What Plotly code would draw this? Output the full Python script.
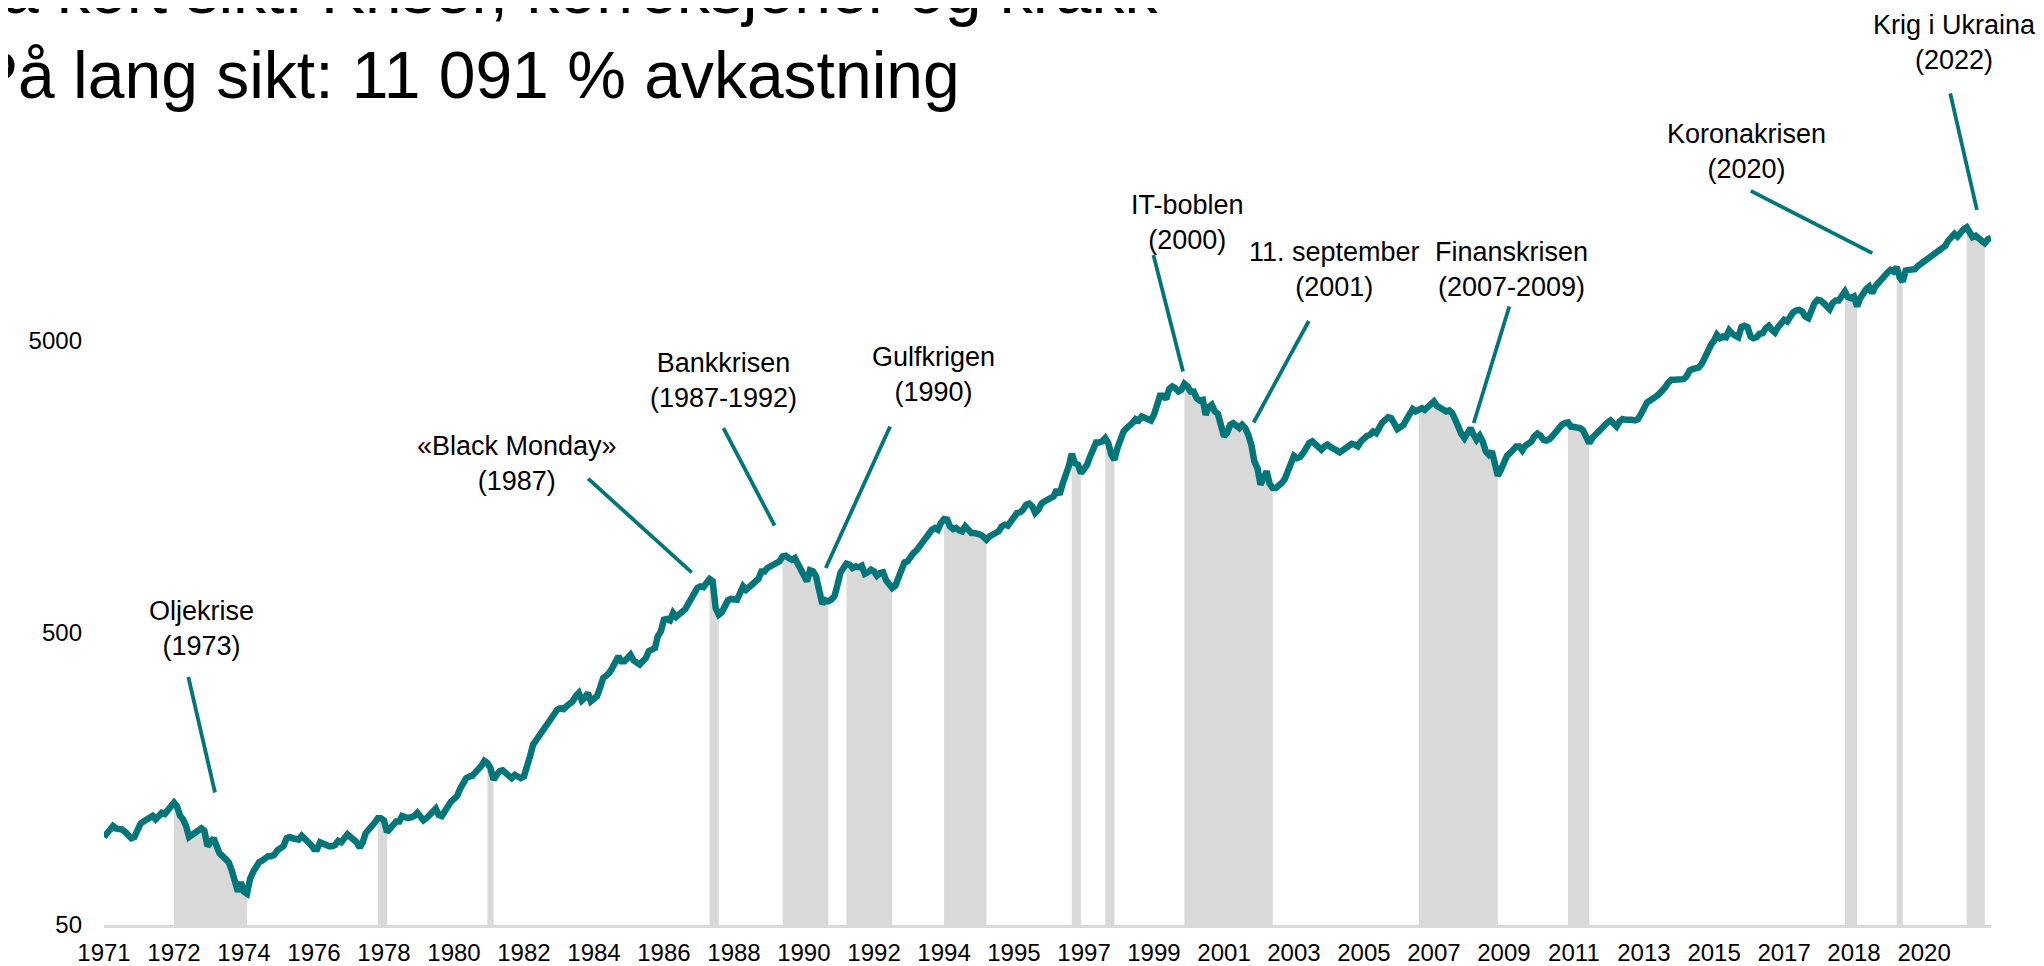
# %% [markdown]
# # Aksjemarkedet 1971-2022: kriser, korreksjoner og krakk
#
# Monthly index level (Jan 1971 = 100) on a log scale. Grey areas mark the
# drawdown periods, labels point at the well known crises.

# %% Imports
import numpy as np
import pandas as pd
import plotly.graph_objects as go

TEAL = "#00767A"
GREY = "#D9D9D9"
Y_FLOOR = 50  # bottom of the log axis, the grey areas are filled down to it

# %% Data
# Monthly index level, one row per year (Jan..Dec), 2022 runs to September
index_level = [
    100, 103, 106, 109, 107, 107, 106, 104, 102, 99, 100, 106,            # 1971
    111, 113, 115, 116, 118, 115, 117, 121, 120, 123, 127, 131,           # 1972
    127, 118, 115, 109, 100, 102, 104, 105, 107, 105, 93, 96,             # 1973
    99, 93, 88, 86, 84, 82, 77, 70, 65, 70, 65, 64,                       # 1974
    72, 76, 79, 82, 83, 85, 86, 86, 87, 90, 92, 93,                       # 1975
    99, 100, 99, 98, 98, 101, 99, 97, 94, 91, 91, 96,                     # 1976
    95, 93, 93, 93, 94, 97, 96, 99, 102, 100, 98, 96,                     # 1977
    92, 96, 103, 107, 109, 112, 116, 116, 114, 104, 107, 109,             # 1978
    113, 113, 118, 117, 116, 117, 118, 121, 118, 114, 116, 118,           # 1979
    122, 125, 119, 118, 123, 128, 132, 135, 138, 146, 154, 159,           # 1980
    161, 162, 166, 170, 175, 182, 179, 172, 157, 163, 168, 169,           # 1981
    166, 161, 159, 163, 160, 159, 161, 179, 189, 207, 215, 221,           # 1982
    230, 236, 244, 259, 266, 273, 276, 274, 280, 284, 291, 303,           # 1983
    311, 293, 299, 311, 291, 297, 303, 324, 350, 356, 364, 379,           # 1984
    399, 415, 399, 399, 409, 420, 402, 396, 389, 399, 409, 432,           # 1985
    435, 443, 486, 505, 554, 557, 551, 584, 566, 576, 587, 602,           # 1986
    628, 652, 683, 711, 720, 716, 739, 763, 749, 607, 576, 587,           # 1987
    615, 645, 652, 652, 648, 683, 720, 701, 716, 739, 749, 763,           # 1988
    810, 810, 832, 843, 854, 861, 877, 912, 917, 900, 888, 900,           # 1989
    854, 821, 779, 749, 817, 810, 779, 711, 628, 645, 640, 648,           # 1990
    666, 730, 800, 832, 861, 854, 832, 843, 838, 847, 795, 804,           # 1991
    821, 810, 783, 800, 804, 755, 730, 711, 724, 768, 821, 870,           # 1992
    877, 912, 936, 956, 987, 1026, 1067, 1110, 1125, 1140, 1125, 1186,    # 1993
    1223, 1217, 1155, 1130, 1140, 1119, 1110, 1155, 1119, 1096, 1096, 1090,  # 1994
    1082, 1062, 1040, 1067, 1090, 1096, 1110, 1155, 1170, 1161, 1201, 1249,  # 1995
    1283, 1290, 1317, 1370, 1381, 1352, 1283, 1317, 1381, 1406, 1425, 1435,  # 1996
    1463, 1541, 1482, 1616, 1711, 1852, 2046, 1902, 1877, 1757, 1814, 1877,  # 1997
    2004, 2140, 2237, 2237, 2255, 2315, 2226, 2030, 1952, 2140, 2315, 2439,  # 1998
    2505, 2551, 2605, 2688, 2660, 2745, 2709, 2688, 2660, 2781, 2954, 3229,  # 1999
    3229, 3146, 3404, 3476, 3431, 3342, 3386, 3550, 3476, 3342, 3342, 3171,  # 2000
    3113, 3130, 2781, 2954, 3009, 2855, 2804, 2571, 2346, 2408, 2571, 2605,  # 2001
    2537, 2505, 2571, 2505, 2377, 2197, 1927, 1828, 1603, 1711, 1781, 1616,  # 2002
    1561, 1561, 1582, 1624, 1676, 1804, 1877, 2014, 1978, 1994, 2057, 2168,  # 2003
    2226, 2255, 2197, 2140, 2112, 2168, 2197, 2156, 2140, 2101, 2068, 2112,  # 2004
    2156, 2197, 2214, 2197, 2168, 2255, 2315, 2357, 2377, 2439, 2408, 2537,  # 2005
    2620, 2674, 2731, 2709, 2605, 2485, 2525, 2571, 2688, 2832, 2908, 2855,  # 2006
    2908, 2930, 2893, 2954, 3033, 3089, 2986, 2930, 2908, 2855, 2877, 2818,  # 2007
    2674, 2505, 2395, 2315, 2408, 2505, 2377, 2284, 2357, 2255, 2084, 2030,  # 2008
    2084, 1902, 1721, 1804, 1942, 2014, 2057, 2123, 2168, 2168, 2101, 2179,  # 2009
    2205, 2255, 2345, 2396, 2358, 2285, 2272, 2298, 2358, 2439, 2525, 2571,  # 2010
    2605, 2619, 2537, 2525, 2537, 2504, 2459, 2345, 2224, 2315, 2376, 2472,  # 2011
    2537, 2571, 2619, 2661, 2605, 2537, 2638, 2688, 2673, 2688, 2673, 2661,  # 2012
    2688, 2803, 2971, 3064, 3113, 3146, 3213, 3281, 3343, 3458, 3588, 3664,  # 2013
    3664, 3664, 3664, 3683, 3760, 3944, 3985, 4018, 4039, 4155, 4403, 4666,  # 2014
    4827, 4992, 5222, 5086, 5152, 5125, 5405, 5263, 5180, 5125, 5547, 5606,  # 2015
    5547, 5152, 5086, 5125, 5263, 5291, 5503, 5606, 5432, 5319, 5547, 5725,  # 2016
    5876, 5801, 6033, 6227, 6325, 6358, 6275, 6033, 5954, 6358, 6701, 6877,  # 2017
    6842, 6701, 6527, 6391, 6701, 6842, 6842, 7155, 7344, 7024, 6968, 7062,  # 2018
    6527, 6968, 7286, 7483, 7639, 7248, 7639, 7886, 8050, 8222, 8527, 8708,  # 2019
    8595, 8893, 8222, 7947, 8663, 8708, 8708, 8754, 8988, 9130, 9299, 9546,  # 2020
    9672, 9801, 9982, 10194, 10328, 10519, 10966, 11382, 11561, 11321, 11778, 11995,  # 2021
    12184, 11624, 11263, 11382, 11175, 11089, 10744, 11089, 11191,        # 2022
]

# Drawdown periods shaded grey (first and last month)
crisis_start = ["1972-12", "1978-07", "1981-07", "1987-08", "1989-08",
                "1991-05", "1994-01", "1997-07", "1998-06", "2000-08",
                "2007-01", "2011-02", "2018-09", "2020-02", "2022-01"]
crisis_end   = ["1974-12", "1978-10", "1981-09", "1987-11", "1990-11",
                "1992-08", "1995-03", "1997-10", "1998-09", "2003-01",
                "2009-03", "2011-09", "2019-01", "2020-04", "2022-07"]

# Category-style axis: a label every 23rd month, as in the original chart
tick_labels = ["1971", "1972", "1974", "1976", "1978", "1980", "1982",
               "1984", "1986", "1988", "1990", "1992", "1994", "1995",
               "1997", "1999", "2001", "2003", "2005", "2007", "2009",
               "2011", "2013", "2015", "2017", "2018", "2020"]
TICK_EVERY = 23

y_ticks = [50, 500, 5000]

# Crisis labels: text position, arrow tip and arrow tail offset (px)
event_text = ["Oljekrise<br>(1973)", "«Black Monday»<br>(1987)",
              "Bankkrisen<br>(1987-1992)", "Gulfkrigen<br>(1990)",
              "IT-boblen<br>(2000)", "11. september<br>(2001)",
              "Finanskrisen<br>(2007-2009)", "Koronakrisen<br>(2020)",
              "Krig i Ukraina<br>(2022)"]
event_text_x = ["1973-09-04", "1982-04-25", "1987-12-15", "1993-09-21",
                "2000-09-01", "2004-09-12", "2009-07-19", "2015-12-21",
                "2021-09-01"]
event_text_y = [517, 1891, 3634, 3811, 12624, 8766, 8766, 22069, 52200]
arrow_x = ["1974-01-15", "1987-02-03", "1989-05-13", "1990-10-06",
           "2000-07-18", "2002-06-24", "2008-07-03", "2019-06-02",
           "2022-04-13"]
arrow_y = [142, 804, 1161, 832, 3911, 2618, 2606, 9934, 13970]
arrow_ax = [-27, -105, -52, 65, -30, 56, 36, -123, -27]
arrow_ay = [-117, -95, -99, -143, -118, -103, -118, -63, -118]

title_lines = ["På kort sikt: Kriser, korreksjoner og krakk",
               "På lang sikt: 11 091 % avkastning"]

# %% Build series
dates = pd.date_range("1971-01-01", periods=len(index_level), freq="MS")
series = pd.Series(index_level, index=dates)

FONT = "Liberation Sans, Arial, sans-serif"

# The page body keeps its default 8px margin, so the figure is drawn 8px
# smaller and everything is laid out relative to that offset.
FIG_W, FIG_H = 2036, 958
PLOT_H = 917.5          # plot area height in px (t=0)
DECADE_PX = 292.5       # px per factor 10 on the y axis

# %% Figure
fig = go.Figure()

for start, end in zip(crisis_start, crisis_end):
    part = series.loc[start:end]
    fig.add_trace(go.Scatter(
        x=list(part.index) + [part.index[-1], part.index[0]],
        y=list(part.values) + [Y_FLOOR, Y_FLOOR],
        mode="lines", fill="toself", fillcolor=GREY,
        line=dict(width=0, color=GREY), hoverinfo="skip"))

fig.add_trace(go.Scatter(x=dates, y=series.values, mode="lines",
                         line=dict(color=TEAL, width=6.5), name="Indeks"))

for txt, tx, ty, hx, hy, ax, ay in zip(event_text, event_text_x, event_text_y,
                                        arrow_x, arrow_y, arrow_ax, arrow_ay):
    fig.add_annotation(x=tx, y=np.log10(ty), text=txt, showarrow=False,
                       font=dict(family=FONT, size=27, color="black"))
    fig.add_annotation(x=hx, y=np.log10(hy), ax=ax, ay=ay, text="",
                       showarrow=True, arrowhead=0, arrowwidth=3.8,
                       arrowcolor=TEAL, standoff=0)

# Title, partly running off the top-left corner as in the original slide
fig.add_annotation(xref="paper", yref="paper", x=-0.0784, y=1.0195,
                   xanchor="left", yanchor="middle", showarrow=False,
                   text=title_lines[0],
                   font=dict(family=FONT, size=66, color="black"))
fig.add_annotation(xref="paper", yref="paper", x=-0.0702, y=0.9269,
                   xanchor="left", yanchor="middle", showarrow=False,
                   text=title_lines[1],
                   font=dict(family=FONT, size=66, color="black"))

fig.update_xaxes(type="date", range=[dates[0], dates[-1]],
                 tickvals=dates[::TICK_EVERY], ticktext=tick_labels,
                 showgrid=False, zeroline=False, ticks="", automargin=False,
                 showline=True, linecolor=GREY, linewidth=2.5,
                 ticklabelstandoff=4,
                 tickfont=dict(family=FONT, size=24, color="black"))
fig.update_yaxes(type="log",
                 range=[np.log10(Y_FLOOR), np.log10(Y_FLOOR) + PLOT_H / DECADE_PX],
                 tickvals=y_ticks, ticktext=[str(v) for v in y_ticks],
                 showgrid=False, zeroline=False, showline=False, ticks="",
                 automargin=False, ticklabelstandoff=21,
                 tickfont=dict(family=FONT, size=24, color="black"))
fig.update_layout(width=FIG_W, height=FIG_H, showlegend=False,
                  template="plotly_white",
                  paper_bgcolor="white", plot_bgcolor="white",
                  margin=dict(l=96, r=53, t=0, b=FIG_H - PLOT_H))

fig.write_html("out.html")
